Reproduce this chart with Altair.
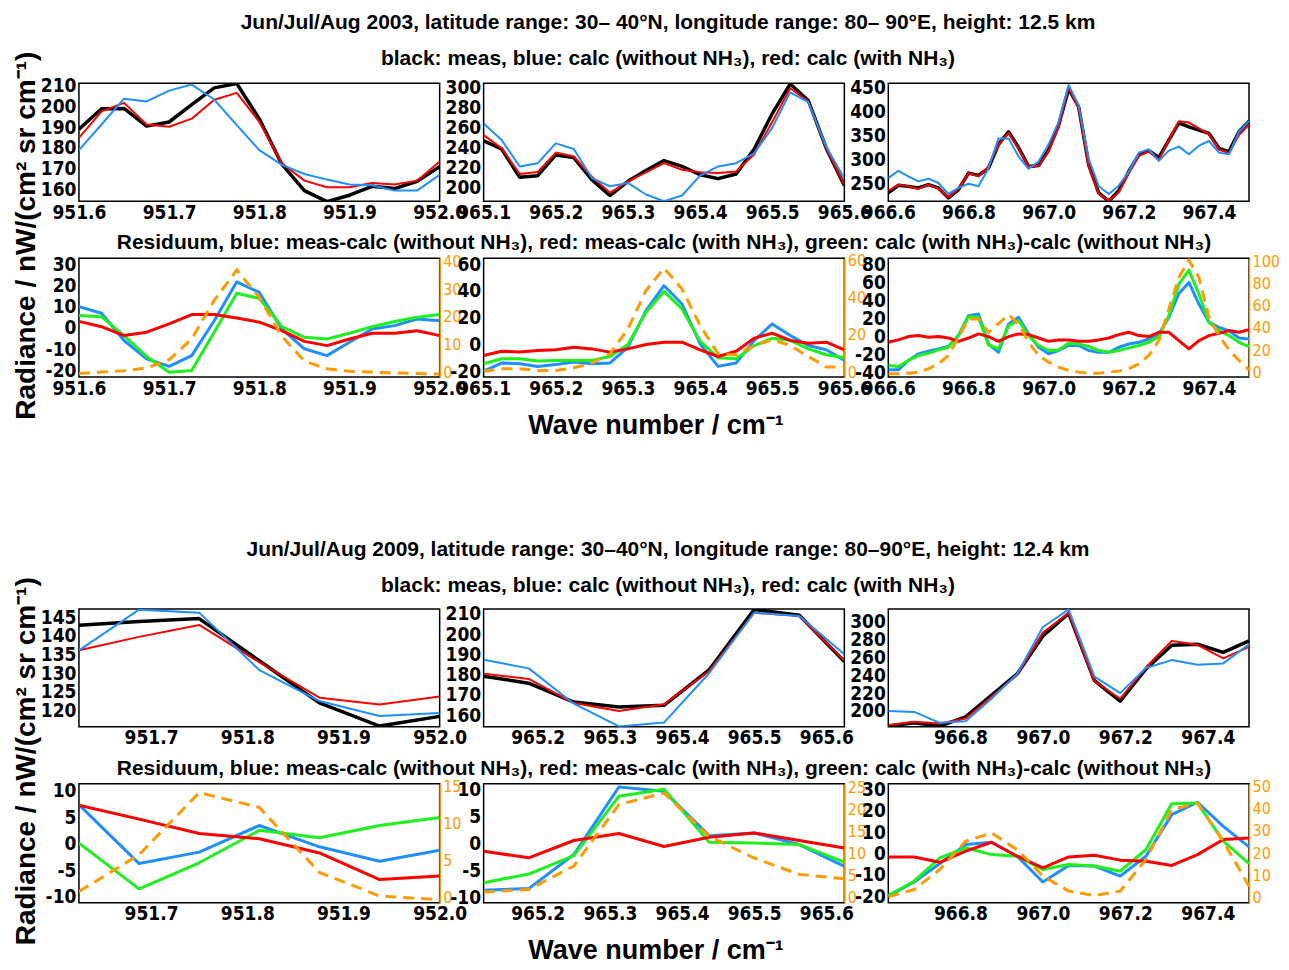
import altair as alt
import pandas as pd

# ---------------- data: block 1 (2003) ----------------
B1P1_X = [951.600, 951.625, 951.650, 951.675, 951.700, 951.725, 951.750, 951.775, 951.800,
          951.825, 951.850, 951.875, 951.900, 951.925, 951.950, 951.975, 952.000]
B1P1_MEAS = [189.0, 198.9, 199.0, 190.5, 192.5, 200.8, 208.9, 211.0, 194.0, 172.2, 159.5, 154.2, 157.3, 161.6, 160.5, 164.0, 171.0]
B1P1_WITH = [184.9, 197.6, 201.7, 191.3, 190.2, 194.1, 203.2, 206.5, 192.5, 172.7, 164.3, 161.1, 161.1, 163.2, 162.4, 164.3, 173.5]
B1P1_WITHOUT = [179.0, 191.3, 203.7, 202.4, 207.6, 210.5, 203.3, 191.0, 179.0, 171.9, 167.5, 164.8, 162.4, 162.1, 159.5, 159.5, 167.1]
B1P1_RB = [10.0, 6.9, -5.9, -14.5, -18.1, -13.0, 3.4, 21.7, 16.7, -0.5, -9.8, -13.0, -6.7, -0.5, 1.1, 4.2, 3.4]
B1P1_RG = [5.8, 5.3, -3.6, -13.4, -20.8, -20.0, -2.0, 16.3, 13.9, 0.6, -4.4, -5.2, -2.5, 0.6, 3.0, 5.0, 6.3]
B1P1_RR = [3.1, 0.6, -3.6, -2.0, 1.9, 6.3, 6.3, 4.7, 2.7, -1.3, -6.3, -8.3, -5.2, -2.5, -2.5, -1.3, -3.6]
B1P1_OR = [-0.5, 0.0, 0.5, 1.5, 4.5, 12.0, 26.0, 37.0, 27.0, 13.0, 4.0, 1.2, 0.3, 0.0, -0.3, -0.5, -0.7]

B1P2_X = [965.100, 965.125, 965.150, 965.175, 965.200, 965.225, 965.250, 965.275, 965.300, 965.325,
          965.350, 965.375, 965.400, 965.425, 965.450, 965.475, 965.500, 965.525, 965.550, 965.575, 965.600]
B1P2_MEAS = [246.5, 238.3, 209.9, 211.6, 232.3, 229.7, 207.6, 191.7, 205.9, 216.8, 226.7, 220.8, 212.5, 208.6, 213.2, 238.3, 273.6, 303.3, 286.8, 238.9, 201.7]
B1P2_WITH = [252.1, 238.9, 213.2, 215.2, 234.7, 230.7, 210.5, 194.4, 205.9, 214.9, 224.1, 217.5, 214.9, 214.2, 215.8, 233.0, 265.3, 299.0, 285.8, 238.9, 202.6]
B1P2_WITHOUT = [263.7, 247.2, 220.8, 224.1, 243.9, 238.3, 209.2, 201.0, 204.3, 192.7, 186.1, 191.7, 211.6, 220.8, 224.1, 234.0, 259.4, 295.0, 285.1, 240.6, 208.6]
B1P2_RB = [-20.0, -14.0, -14.5, -16.5, -15.0, -13.3, -14.5, -14.0, -2.1, 25.2, 43.9, 30.2, 0.4, -16.5, -14.0, 2.9, 15.3, 6.6, -0.9, -4.1, -12.0]
B1P2_RG = [-14.5, -10.8, -10.8, -12.5, -12.0, -12.0, -12.0, -9.1, -0.1, 24.0, 39.6, 26.5, 2.4, -10.1, -10.8, -0.9, 4.6, 2.9, -3.4, -7.8, -10.1]
B1P2_RR = [-8.3, -5.1, -5.8, -4.6, -4.1, -2.1, -3.4, -5.8, -3.4, -0.1, 1.6, 1.6, -4.1, -9.1, -5.1, 4.6, 8.3, 2.9, 0.9, 1.6, -4.1]
B1P2_OR = [0.5, 1.8, 1.8, 0.9, 0.9, 2.3, 4.8, 9.8, 23.3, 43.9, 56.0, 44.8, 25.1, 9.8, 9.4, 14.3, 17.4, 14.3, 8.4, 2.7, 2.7]

B1P3_X = [966.600, 966.625, 966.650, 966.675, 966.700, 966.725, 966.750, 966.775, 966.800, 966.825,
          966.850, 966.875, 966.900, 966.925, 966.950, 966.975, 967.000, 967.025, 967.050, 967.075,
          967.100, 967.125, 967.150, 967.175, 967.200, 967.225, 967.250, 967.275, 967.300, 967.325,
          967.350, 967.375, 967.400, 967.425, 967.450, 967.475, 967.500]
B1P3_MEAS = [229.3, 245.2, 243.0, 239.7, 246.6, 239.7, 219.0, 236.2, 270.7, 265.9,
             281.0, 330.7, 356.9, 323.8, 284.5, 286.6, 319.0, 370.7, 446.6, 408.6,
             287.9, 229.3, 212.0, 234.0, 274.1, 308.6, 317.6, 303.1, 339.7, 375.5,
             367.2, 360.3, 353.4, 322.4, 315.5, 356.9, 379.0]
B1P3_WITH = [234.0, 246.6, 243.0, 237.6, 246.6, 238.3, 220.3, 238.3, 270.7, 263.8,
             284.5, 330.7, 354.8, 320.3, 284.5, 285.9, 316.9, 367.2, 450.0, 405.2,
             284.5, 227.2, 213.0, 231.4, 270.7, 307.2, 315.5, 298.3, 339.7, 379.0,
             376.2, 363.8, 352.1, 319.7, 312.1, 350.0, 372.1]
B1P3_WITHOUT = [260.3, 275.5, 263.8, 253.4, 259.0, 250.0, 227.2, 239.7, 248.6, 243.1,
                281.0, 343.1, 343.1, 305.2, 279.7, 294.8, 330.7, 377.6, 454.8, 412.1,
                300.3, 243.1, 227.2, 244.5, 274.1, 313.4, 320.3, 296.2, 317.6, 325.9,
                310.0, 327.9, 337.6, 313.4, 310.0, 356.9, 379.0]
B1P3_RB = [-37.5, -37.5, -27.0, -19.6, -16.7, -14.0, -11.1, 0.8, 23.1, 25.0,
           -8.6, -17.8, 13.8, 21.3, 2.7, -12.2, -19.6, -15.9, -10.3, -10.3,
           -15.9, -17.8, -17.8, -12.2, -8.6, -6.7, -3.0, 2.7, 21.3, 48.0,
           60.3, 36.1, 15.7, 10.0, 6.3, -1.9, -3.0]
B1P3_RG = [-32.6, -33.8, -27.0, -21.5, -18.9, -15.2, -12.2, 0.8, 22.0, 21.3,
           -9.6, -14.0, 12.0, 17.5, 0.8, -10.3, -15.9, -15.2, -7.7, -8.5,
           -11.4, -15.9, -17.8, -15.9, -12.9, -10.3, -6.7, -0.3, 23.1, 58.4,
           74.1, 47.3, 15.7, 6.4, 0.8, -6.7, -11.4]
B1P3_RR = [-6.6, -4.0, -0.3, 0.8, -1.1, -0.3, -1.9, -5.6, -1.9, 2.7,
           -0.3, -5.6, -0.3, 2.7, 1.9, -1.9, -5.6, -4.0, -4.0, -5.6,
           -5.6, -4.0, -1.9, 1.9, 4.5, 0.8, -0.3, 4.5, 4.5, -4.8,
           -14.0, -4.8, 0.8, 3.4, 6.4, 4.5, 7.5]
B1P3_OR = [-1.5, -1.5, -1.0, 0.0, 3.0, 7.5, 15.0, 31.6, 48.2, 48.2,
           36.0, 44.0, 52.0, 43.7, 27.1, 15.0, 9.0, 4.5, 1.5, 0.0,
           -1.0, -1.0, 0.0, 0.9, 3.0, 7.5, 15.0, 28.6, 57.2, 85.8,
           101.5, 85.8, 49.7, 33.1, 20.2, 10.5, 2.1]

# ---------------- data: block 2 (2009) ----------------
B2P1_X = [951.625, 951.6875, 951.75, 951.8125, 951.875, 951.9375, 952.0]
B2P1_MEAS = [142.8, 143.8, 144.6, 133.3, 122.0, 115.8, 118.4]
B2P1_WITH = [136.1, 139.7, 142.9, 132.9, 123.4, 121.6, 123.7]
B2P1_WITHOUT = [136.1, 147.0, 146.2, 130.8, 122.5, 118.5, 119.3]
B2P1_RB = [7.3, -3.75, -1.6, 3.4, -0.6, -3.3, -1.25]
B2P1_RG = [0.1, -8.5, -3.6, 2.5, 1.1, 3.4, 4.9]
B2P1_RR = [7.2, 4.6, 1.9, 0.9, -1.75, -6.75, -6.1]
B2P1_OR = [0.8, 5.8, 14.2, 12.2, 3.4, 0.2, -0.3]

B2P2_X = [965.125, 965.1875, 965.25, 965.3125, 965.375, 965.4375, 965.5, 965.5625, 965.625]
B2P2_MEAS = [179.2, 175.8, 166.5, 164.1, 164.9, 182.3, 212.1, 209.3, 186.5]
B2P2_WITH = [180.4, 177.9, 166.0, 162.1, 165.4, 181.7, 210.5, 208.9, 186.9]
B2P2_WITHOUT = [187.3, 183.1, 165.7, 154.5, 156.4, 180.7, 210.5, 208.9, 190.1]
B2P2_RB = [-8.6, -8.3, -2.0, 10.5, 9.7, 1.5, 2.0, -0.15, -4.2]
B2P2_RG = [-7.2, -5.6, -2.2, 8.8, 10.1, 0.3, 0.15, -0.15, -3.4]
B2P2_RR = [-1.4, -2.6, 0.6, 1.9, -0.5, 1.2, 2.0, 0.6, -0.8]
B2P2_OR = [1.3, 1.9, 7.2, 21.1, 23.7, 13.9, 9.0, 5.3, 4.3]

B2P3_X = [966.625, 966.6875, 966.75, 966.8125, 966.875, 966.9375, 967.0, 967.0625,
          967.125, 967.1875, 967.25, 967.3125, 967.375, 967.4375, 967.5]
B2P3_MEAS = [183.0, 186.7, 183.0, 193.3, 217.4, 241.5, 284.1, 309.3, 234.1, 211.1, 247.0, 273.7, 274.8, 265.6, 278.5]
B2P3_WITH = [184.1, 187.8, 185.9, 191.5, 215.6, 240.7, 287.8, 310.0, 233.3, 213.7, 248.9, 278.5, 274.1, 258.9, 271.9]
B2P3_WITHOUT = [200.0, 198.9, 186.7, 188.5, 213.7, 241.5, 294.1, 313.7, 238.5, 220.0, 248.1, 257.0, 251.9, 253.3, 274.8]
B2P3_RB = [-20.0, -13.4, -4.7, 4.2, 5.3, -1.25, -13.4, -5.6, -5.9, -10.6, -1.25, 18.3, 24.1, 12.8, 3.1]
B2P3_RG = [-19.7, -13.0, -2.0, 2.7, -0.5, -1.25, -7.5, -5.2, -5.9, -8.3, 1.9, 23.4, 23.75, 5.8, -4.7]
B2P3_RR = [-1.6, -1.6, -4.1, 1.1, 5.3, -1.25, -6.7, -1.6, -0.8, -3.1, -3.6, -5.6, -0.5, 6.6, 7.3]
B2P3_OR = [0.4, 3.7, 12.7, 25.4, 29.1, 21.6, 9.7, 3.0, 1.0, 3.0, 17.2, 39.6, 42.5, 25.4, 5.2]

# ---------------- texts ----------------
TITLE_1 = "Jun/Jul/Aug 2003, latitude range:  30– 40°N, longitude range:  80– 90°E, height: 12.5 km"
TITLE_2 = "Jun/Jul/Aug 2009, latitude range:  30–40°N, longitude range:  80–90°E, height: 12.4 km"
SUBTITLE = "black: meas, blue: calc (without NH₃), red: calc (with NH₃)"
RES_TITLE = "Residuum, blue: meas-calc (without NH₃), red: meas-calc (with NH₃), green: calc (with NH₃)-calc (without NH₃)"
Y_TITLE = "Radiance / nW/(cm² sr cm⁻¹)"
X_TITLE = "Wave number / cm⁻¹"

# ---------------- style ----------------
BLACK = "#000000"
BLUE = "#1e8fff"
RED = "#ff0000"
GREEN = "#1ef01e"
ORANGE = "#ff9a00"
SANS = "Liberation Sans"
NARROW = "Liberation Sans Narrow, Arial Narrow, DejaVu Sans Condensed, Liberation Sans"
NEG = "datum.value < 0 ? '-' + abs(datum.value) : '' + datum.value"
W = 361
H_TOP = 118
H_RES = 119
FRAME = alt.ViewBackground(stroke=BLACK, strokeWidth=1.5, fill="white")


def x_axis(vals, big_title=False):
    kw = dict(values=vals, format=".1f", labelFlush=False, labelOverlap=False,
              ticks=False, domain=False, grid=False, labelPadding=2,
              labelFont=NARROW, labelFontSize=19, labelFontWeight="bold", labelColor=BLACK)
    if big_title:
        kw.update(title=X_TITLE, titleFont=SANS, titleFontSize=27, titleFontWeight="bold",
                  titleColor=BLACK, titleX=172, titleY=48, titleBaseline="middle", titleAlign="center")
    else:
        kw.update(title=None)
    return alt.Axis(**kw)


def y_axis(vals, big_title=False):
    kw = dict(values=vals, labelExpr=NEG, ticks=False, domain=False, grid=False, labelPadding=3,
              labelOverlap=False, labelFont=NARROW, labelFontSize=19, labelFontWeight="bold",
              labelColor=BLACK)
    if big_title:
        kw.update(title=Y_TITLE, titleFont=SANS, titleFontSize=28, titleFontWeight="bold",
                  titleColor=BLACK, titleAngle=270, titleX=-52, titleY=152,
                  titleAlign="center", titleBaseline="middle")
    else:
        kw.update(title=None)
    return alt.Axis(**kw)


def o_axis(vals):
    return alt.Axis(orient="right", values=vals, labelExpr=NEG, ticks=False, grid=False,
                    domain=True, domainColor=ORANGE, domainWidth=1.5, labelPadding=3,
                    labelOverlap=False, labelFont=NARROW, labelFontSize=16,
                    labelFontWeight="normal", labelColor=ORANGE, title=None)


def top_panel(x, meas, cw, cwo, xdom, ydom, xvals, yvals, ytitle=False, title=None):
    df = pd.DataFrame({"wn": x, "meas": meas, "cw": cw, "cwo": cwo})
    X = alt.X("wn:Q", scale=alt.Scale(domain=xdom, nice=False, zero=False), axis=x_axis(xvals))
    ysc = alt.Scale(domain=ydom, nice=False, zero=False)
    yax = y_axis(yvals, ytitle)

    def line(field, color, width):
        return alt.Chart(df).mark_line(color=color, strokeWidth=width, clip=True,
                                       strokeJoin="round").encode(
            x=X, y=alt.Y(f"{field}:Q", scale=ysc, axis=yax))

    ch = alt.layer(line("meas", BLACK, 3.5), line("cw", RED, 2), line("cwo", BLUE, 2))
    ch = ch.properties(width=W, height=H_TOP, view=FRAME)
    if title is not None:
        ch = ch.properties(title=title)
    return ch


def res_panel(x, rb, rg, rr, orng, xdom, ydom, odom, xvals, yvals, ovals, xtitle=False, title=None):
    df = pd.DataFrame({"wn": x, "rb": rb, "rg": rg, "rr": rr, "orng": orng})
    X = alt.X("wn:Q", scale=alt.Scale(domain=xdom, nice=False, zero=False), axis=x_axis(xvals, xtitle))
    ysc = alt.Scale(domain=ydom, nice=False, zero=False)
    yax = y_axis(yvals)

    def line(field, color):
        return alt.Chart(df).mark_line(color=color, strokeWidth=3, clip=True,
                                       strokeJoin="round").encode(
            x=X, y=alt.Y(f"{field}:Q", scale=ysc, axis=yax))

    left = alt.layer(line("rb", BLUE), line("rg", GREEN), line("rr", RED))
    orange = alt.Chart(df).mark_line(color=ORANGE, strokeWidth=3, strokeDash=[11, 7],
                                     clip=True).encode(
        x=X, y=alt.Y("orng:Q", scale=alt.Scale(domain=odom, nice=False, zero=False),
                     axis=o_axis(ovals)))
    ch = alt.layer(left, orange).resolve_scale(y="independent")
    ch = ch.properties(width=W, height=H_RES, view=FRAME)
    if title is not None:
        ch = ch.properties(title=title)
    return ch


def main_title(text):
    return alt.TitleParams(text=text, subtitle=SUBTITLE, anchor="middle", frame="group",
                           font=SANS, fontSize=21, fontWeight="bold", color=BLACK,
                           subtitleFont=SANS, subtitleFontSize=21, subtitleFontWeight="bold",
                           subtitleColor=BLACK, subtitlePadding=15, offset=9, dx=4)


res_title = alt.TitleParams(text=RES_TITLE, anchor="middle", frame="group", font=SANS,
                            fontSize=21, fontWeight="bold", color=BLACK, offset=0)

XV1 = [951.6, 951.7, 951.8, 951.9, 952.0]
XV2 = [965.1, 965.2, 965.3, 965.4, 965.5, 965.6]
XV3 = [966.6, 966.8, 967.0, 967.2, 967.4]
XW1 = [951.7, 951.8, 951.9, 952.0]
XW2 = [965.2, 965.3, 965.4, 965.5, 965.6]
XW3 = [966.8, 967.0, 967.2, 967.4]

panels = [
    top_panel(B1P1_X, B1P1_MEAS, B1P1_WITH, B1P1_WITHOUT, [951.6, 952.0], [154.4, 211.1],
              XV1, [160, 170, 180, 190, 200, 210], ytitle=True),
    top_panel(B1P2_X, B1P2_MEAS, B1P2_WITH, B1P2_WITHOUT, [965.1, 965.6], [186, 304],
              XV2, [200, 220, 240, 260, 280, 300], title=main_title(TITLE_1)),
    top_panel(B1P3_X, B1P3_MEAS, B1P3_WITH, B1P3_WITHOUT, [966.6, 967.5], [212, 458],
              XV3, [250, 300, 350, 400, 450]),
    res_panel(B1P1_X, B1P1_RB, B1P1_RG, B1P1_RR, B1P1_OR, [951.6, 952.0], [-23.1, 32.8], [-1.8, 41.3],
              XV1, [-20, -10, 0, 10, 20, 30], [0, 10, 20, 30, 40]),
    res_panel(B1P2_X, B1P2_RB, B1P2_RG, B1P2_RR, B1P2_OR, [965.1, 965.6], [-24.5, 64.5], [-2.7, 61.4],
              XV2, [-20, 0, 20, 40, 60], [0, 20, 40, 60], xtitle=True, title=res_title),
    res_panel(B1P3_X, B1P3_RB, B1P3_RG, B1P3_RR, B1P3_OR, [966.6, 967.5], [-45.6, 87.4], [-4.5, 103.3],
              XV3, [-40, -20, 0, 20, 40, 60, 80], [0, 20, 40, 60, 80, 100]),
]

spacer = alt.Chart(pd.DataFrame({"v": [0]})).mark_point(opacity=0).encode(
    x=alt.X("v:Q", axis=None), y=alt.Y("v:Q", axis=None)
).properties(width=W, height=118, view=alt.ViewBackground(stroke="transparent"))
panels += [spacer, spacer, spacer]

panels += [
    top_panel(B2P1_X, B2P1_MEAS, B2P1_WITH, B2P1_WITHOUT, [951.625, 952.0], [115.6, 147.2],
              XW1, [120, 125, 130, 135, 140, 145], ytitle=True),
    top_panel(B2P2_X, B2P2_MEAS, B2P2_WITH, B2P2_WITHOUT, [965.125, 965.625], [154.3, 212.4],
              XW2, [160, 170, 180, 190, 200, 210], title=main_title(TITLE_2)),
    top_panel(B2P3_X, B2P3_MEAS, B2P3_WITH, B2P3_WITHOUT, [966.625, 967.5], [182.2, 314.4],
              XW3, [200, 220, 240, 260, 280, 300]),
    res_panel(B2P1_X, B2P1_RB, B2P1_RG, B2P1_RR, B2P1_OR, [951.625, 952.0], [-11.1, 11.25], [-0.7, 15.4],
              XW1, [-10, -5, 0, 5, 10], [0, 5, 10, 15]),
    res_panel(B2P2_X, B2P2_RB, B2P2_RG, B2P2_RR, B2P2_OR, [965.125, 965.625], [-10.9, 11.1], [-1.1, 25.8],
              XW2, [-10, -5, 0, 5, 10], [0, 5, 10, 15, 20, 25], xtitle=True, title=res_title),
    res_panel(B2P3_X, B2P3_RB, B2P3_RG, B2P3_RR, B2P3_OR, [966.625, 967.5], [-23.1, 32.8], [-2.2, 51.2],
              XW3, [-20, -10, 0, 10, 20, 30], [0, 10, 20, 30, 40, 50]),
]

chart = alt.concat(*panels, columns=3, spacing={"row": 57, "column": 44}, bounds="flush").properties(
    padding={"left": 4, "top": 3, "right": 0, "bottom": 0}
).configure(background="white").configure_view(stroke=BLACK, strokeWidth=1.5)

chart.save("out.html", embed_options={"renderer": "svg", "actions": False})
